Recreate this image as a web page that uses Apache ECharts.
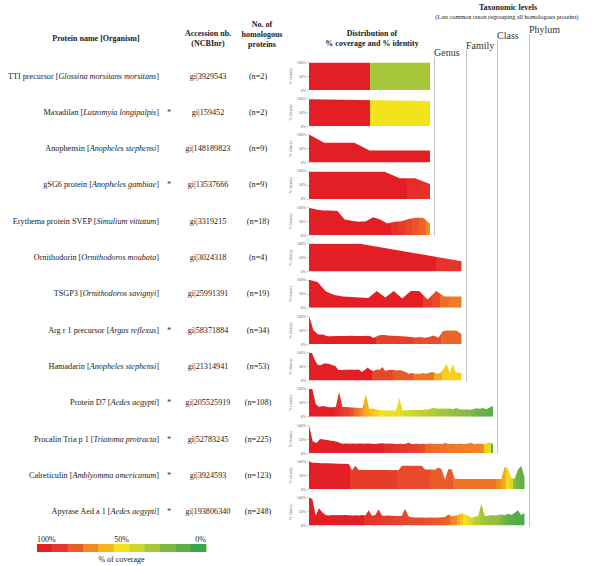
<!DOCTYPE html>
<html><head><meta charset="utf-8">
<script src="https://cdn.jsdelivr.net/npm/echarts/dist/echarts.min.js"></script>
<style>html,body{margin:0;padding:0;background:#fff}#c{width:600px;height:566px}</style>
</head><body><div id="c"></div>
<script>
// ---------- DATA ----------
const proteinNames = ['TTI precursor','Maxadilan','Anophensin','gSG6 protein','Erythema protein SVEP','Ornithodorin','TSGP3','Arg r 1 precursor','Hamadarin','Protein D7','Procalin Tria p 1','Calreticulin','Apyrase Aed a 1'];
const organisms = ['Glossina morsitans morsitans','Lutzomyia longipalpis','Anopheles stephensi','Anopheles gambiae','Simulium vittatum','Ornithodoros moubata','Ornithodoros savignyi','Argas reflexus','Anopheles stephensi','Aedes aegypti','Triatoma protracta','Amblyomma americanum','Aedes aegypti'];
const starred = [false,true,false,true,false,false,false,true,false,true,true,true,true];
const accessions = ['gi|3929543','gi|159452','gi|148189823','gi|13537666','gi|3319215','gi|3024318','gi|25991391','gi|58371884','gi|21314941','gi|205525919','gi|52783245','gi|3924593','gi|193806340'];
const homologs = [2,2,9,9,18,4,19,34,53,108,225,123,248];
const taxLevelOfRow = [0,0,0,0,0,1,1,1,1,2,2,3,3];
const taxLabels = ['Genus','Family','Class','Phylum'];
const legendTicks = ['100%','50%','0%'];
const coverageSteps = [100,90,80,70,60,50,40,30,20,10,0];

// % identity per homologous protein (sampled along each profile)
const idTTI = [97,97];
const idMaxadilan = [97,90];
const idAnophensin = [100,71,71,71,43,43,43,43,43];
const idGSG6 = [97,97,97,97,97,97,74,74,53];
const idErythema = [98,92,88,88,86,56,52,48,50,64,56,42,48,50,58,62,62,42];
const idOrnithodorin = [99,99,68,37];
const idTSGP3 = [100,92,58,46,40,39,37,35,60,37,60,33,60,60,30,60,40,40,40];
const idArg = [100,49,34,34,28,28,29,29,29,30,29,29,29,30,22,31,33,31,30,29,28,27,25,24,25,23,25,31,23,47,49,49,48,35];
const idHamadarin = [100,98,73,55,54,60,60,59,54,51,37,37,38,38,39,38,38,39,30,37,46,37,34,39,37,48,34,37,38,37,35,37,34,30,24,26,24,24,24,26,24,27,30,27,24,28,43,59,27,59,29,27,28];
const idD7 = [100,99,45,35,38,36,34,34,35,88,35,35,34,33,32,31,30,80,28,29,26,24,23,22,22,22,22,68,22,23,24,25,25,24,25,26,27,32,29,28,29,28,29,27,31,27,26,27,25,27,30,28,31,27,33,38];
const idProcalin = [100,42,36,50,48,46,44,42,38,33,34,33,34,33,34,33,34,33,32,34,35,33,34,33,32,33,32,37,32,33,32,33,32,34,32,33,32,36,32,33,32,33,32,33,37,32,34,32,33,38,32];
const idCalreticulin = [100,95,95,94,93,93,93,92,92,91,91,91,90,68,84,69,69,69,69,69,69,69,69,69,69,68,69,68,84,84,84,84,84,84,84,71,71,71,70,78,72,35,72,72,38,37,37,37,37,37,37,37,37,37,37,37,37,37,37,80,76,40,38,70,84,42];
const idApyrase = [100,95,35,62,48,38,36,38,37,38,37,38,37,36,37,36,38,36,55,35,38,58,36,35,36,35,34,34,35,60,33,30,29,29,29,28,29,29,28,29,30,31,40,33,35,38,44,40,36,28,32,34,78,34,35,38,36,38,40,37,42,38,45,55,38,45];

// % coverage per homologous protein (same sampling)
const covTTI = [100,30];
const covMaxadilan = [100,50];
const covAnophensin = [100,100,100,100,100,100,100,100,100];
const covGSG6 = [100,100,100,100,100,100,100,94,92];
const covErythema = [100,100,100,100,100,100,100,100,100,100,100,100,93,90,86,82,78,70];
const covOrnithodorin = [100,100,100,91];
const covTSGP3 = [100,100,100,100,100,100,100,100,100,100,100,100,100,100,88,85,76,73,73];
const covArg = [100,100,100,100,100,100,100,100,100,100,100,100,100,100,100,88,88,88,88,88,88,88,88,84,84,84,84,84,84,78,78,78,78,78];
const covHamadarin = [100,100,100,100,100,100,100,100,100,100,100,100,100,100,100,100,100,100,100,100,100,100,86,86,86,86,86,86,86,80,80,80,80,80,80,80,74,74,74,74,74,74,74,62,62,62,54,54,54,54,54,54,54];
const covD7 = [100,100,100,100,100,100,100,100,96,93,90,88,86,82,76,72,68,62,59,57,55,52,50,49,48,48,47,46,45,42,40,39,38,37,36,35,34,33,32,30,29,28,27,26,25,24,23,22,21,19,17,15,14,13,11,10];
const covProcalin = [100,100,100,100,100,100,100,100,100,100,100,100,100,100,100,100,100,100,100,100,100,95,94,93,92,91,90,89,88,87,86,85,78,77,76,76,75,75,74,74,73,73,72,72,72,71,71,70,55,45,10];
const covCalreticulin = [100,100,100,100,100,100,100,100,100,100,100,100,100,89,89,89,89,89,89,89,89,89,89,89,89,89,89,85,85,85,85,85,85,85,85,85,85,80,80,80,80,80,80,80,75,75,75,75,75,75,75,75,75,75,75,75,75,70,66,62,52,42,22,15,12,10];
const covApyrase = [100,100,100,100,100,100,100,100,100,100,100,100,100,100,100,100,100,92,92,91,91,90,90,89,89,88,87,87,86,86,85,85,85,84,84,83,83,82,81,80,80,79,78,72,70,62,56,50,46,40,36,34,30,28,27,26,25,24,20,16,13,11,9,8,7,6];

const identities = [idTTI,idMaxadilan,idAnophensin,idGSG6,idErythema,idOrnithodorin,idTSGP3,idArg,idHamadarin,idD7,idProcalin,idCalreticulin,idApyrase];
const coverages = [covTTI,covMaxadilan,covAnophensin,covGSG6,covErythema,covOrnithodorin,covTSGP3,covArg,covHamadarin,covD7,covProcalin,covCalreticulin,covApyrase];

// ---------- STYLE ----------
const FONT = '"Liberation Serif","Times New Roman",serif';
const TXT = '#1a1a1a';
const ROWFONT = 8.2;
const palette = ['#e31e25','#e6382a','#ea5b2a','#f08a24','#f8b51c','#f4e21d','#cfd92a','#a8c63a','#80b845','#5bae48','#3aa64c']; // 100% -> 0%

function hex(h){return [parseInt(h.slice(1,3),16),parseInt(h.slice(3,5),16),parseInt(h.slice(5,7),16)];}
function covColor(c){
  const t=(100-c)/10; const i=Math.min(9,Math.floor(t)); const f=Math.min(1,t-i);
  const a=hex(palette[i]), b=hex(palette[i+1]);
  return 'rgb('+a.map((v,k)=>Math.round(v+(b[k]-v)*f)).join(',')+')';
}
function gradient(cov){
  const n=cov.length, h=0.5/(n-1), stops=[];
  cov.forEach((c,i)=>{const p=i/(n-1), col=covColor(c);
    stops.push({offset:Math.max(0,p-h),color:col});
    stops.push({offset:Math.min(1,p+h),color:col});});
  return new echarts.graphic.LinearGradient(0,0,1,0,stops);
}

// ---------- LAYOUT ----------
const ROW0 = 76, ROWSTEP = 36.3, PLOT_LEFT = 309, PLOT_H = 28;
const rowY = i => ROW0 + i*ROWSTEP;
const plotW = lvl => 121 + lvl*31.5;
const taxX = lvl => 434 + lvl*31.67;
const taxLabelY = [52,45,35,29];

const grids=[], xAxes=[], yAxes=[], series=[], graphics=[];
identities.forEach((vals,i)=>{
  const yc=rowY(i);
  grids.push({left:PLOT_LEFT, top:yc-14, width:plotW(taxLevelOfRow[i]), height:PLOT_H});
  xAxes.push({gridIndex:i, type:'category', boundaryGap:false, data:vals.map((_,k)=>k+1), show:false});
  yAxes.push({gridIndex:i, type:'value', min:0, max:100, interval:50,
    axisLine:{show:false}, splitLine:{show:false},
    axisTick:{show:true, length:2, lineStyle:{color:'#999', width:0.5}},
    axisLabel:{formatter:'{value}%', fontSize:4, color:'#666', margin:3, fontFamily:FONT},
    name:'% identity', nameLocation:'middle', nameGap:17, nameRotate:90,
    nameTextStyle:{fontSize:4, color:'#666', fontFamily:FONT}});
  series.push({type:'line', xAxisIndex:i, yAxisIndex:i, data:vals, symbol:'none', silent:true,
    lineStyle:{width:0}, areaStyle:{color:gradient(coverages[i]), opacity:1}});

  graphics.push({type:'text', x:159, y:yc, style:{
    text:'{n|'+proteinNames[i]+' [}{i|'+organisms[i]+'}{n|]}',
    rich:{n:{fontSize:ROWFONT,fontFamily:FONT,fill:TXT}, i:{fontSize:ROWFONT,fontFamily:FONT,fontStyle:'italic',fill:TXT}},
    align:'right', verticalAlign:'middle'}});
  if(starred[i]) graphics.push({type:'text', x:169, y:yc, style:{text:'*', font:ROWFONT+'px '+FONT, fill:TXT, align:'center', verticalAlign:'middle'}});
  graphics.push({type:'text', x:208, y:yc, style:{text:accessions[i], font:ROWFONT+'px '+FONT, fill:TXT, align:'center', verticalAlign:'middle'}});
  graphics.push({type:'text', x:258, y:yc, style:{text:'(n='+homologs[i]+')', font:ROWFONT+'px '+FONT, fill:TXT, align:'center', verticalAlign:'middle'}});
});

// headers
function head(t,x,y,size,weight){graphics.push({type:'text',x:x,y:y,style:{text:t,font:(weight||'bold')+' '+size+'px '+FONT,fill:TXT,align:'center',verticalAlign:'middle'}});}
head('Protein name [Organism]',96,38,8);
head('Accession nb.',208,33,8); head('(NCBInr)',208,43,8);
head('No. of',262,24,8); head('homologous',262,34,8); head('proteins',262,44,8);
head('Distribution of',372,33,8); head('% coverage and % identity',372,43,8);
head('Taxonomic levels',508,7,8);
head('(Last common taxon regrouping all homologous proteins)',507,16,6.2,'normal');

// taxonomic lines
taxLabels.forEach((lab,l)=>{
  const x=Math.round(taxX(l))+0.5;
  let last=0; taxLevelOfRow.forEach((v,i)=>{if(v===l) last=i;});
  graphics.push({type:'line', shape:{x1:x,y1:taxLabelY[l]+5,x2:x,y2:rowY(last)+15}, style:{stroke:'#c4c4c4',lineWidth:1}});
  graphics.push({type:'text', x:x-0.5, y:taxLabelY[l], style:{text:lab, font:'10px '+FONT, fill:'#333', align:'left', verticalAlign:'middle'}});
});

// coverage legend
const LX=37, LW=169, LY=544, LH=8, segW=LW/coverageSteps.length;
coverageSteps.forEach((c,k)=>{
  graphics.push({type:'rect', shape:{x:LX+k*segW, y:LY, width:segW+0.4, height:LH}, style:{fill:palette[k]}});
});
graphics.push({type:'text',x:LX,y:539,style:{text:legendTicks[0],font:'8px '+FONT,fill:TXT,align:'left',verticalAlign:'middle'}});
graphics.push({type:'text',x:LX+LW/2,y:539,style:{text:legendTicks[1],font:'8px '+FONT,fill:TXT,align:'center',verticalAlign:'middle'}});
graphics.push({type:'text',x:LX+LW,y:539,style:{text:legendTicks[2],font:'8px '+FONT,fill:TXT,align:'right',verticalAlign:'middle'}});
graphics.push({type:'text',x:LX+LW/2,y:559,style:{text:'% of coverage',font:'8px '+FONT,fill:TXT,align:'center',verticalAlign:'middle'}});

const chart = echarts.init(document.getElementById('c'), null, {renderer:'svg'});
chart.setOption({animation:false, backgroundColor:'#fff', grid:grids, xAxis:xAxes, yAxis:yAxes, series:series, graphic:graphics});
</script></body></html>
